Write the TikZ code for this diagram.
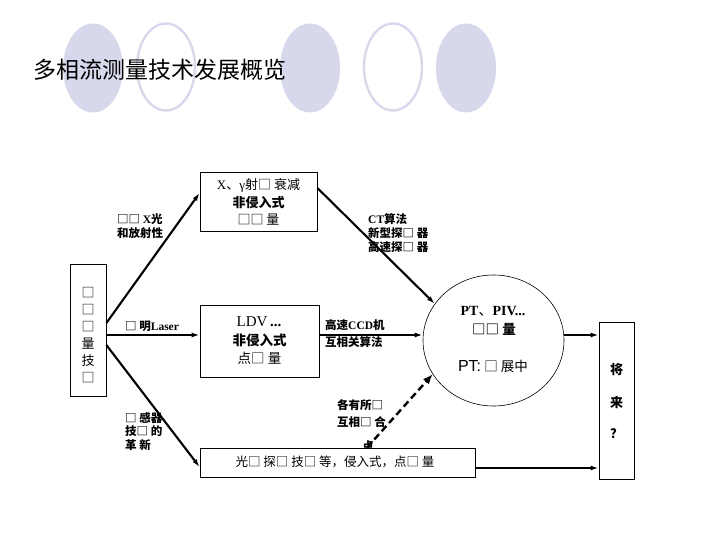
\documentclass[tikz,border=0pt]{standalone}
\usepackage{fontspec}
\setmainfont{Liberation Serif}
\newfontfamily\cj{Noto Sans CJK SC}
\newfontfamily\hv{Liberation Sans}
\usetikzlibrary{arrows.meta,shapes.geometric}
\definecolor{lav}{RGB}{216,216,236}
\tikzset{
  deco/.style={ellipse, minimum width=60bp, minimum height=89bp, inner sep=0},
  decofill/.style={deco, fill=lav},
  decoring/.style={deco, draw=lav, line width=2.4bp, minimum width=58bp, minimum height=87bp},
  box/.style={draw, line width=0.8bp, fill=white, inner sep=0},
  conn/.style={line width=2.1bp, -{Latex[length=8bp,width=5bp]}},
  dconn/.style={line width=2.4bp, dash pattern=on 7bp off 4bp, -{Latex[length=10bp,width=8bp]}},
  lbl/.style={font=\cj\fontsize{11.5bp}{13.8bp}\selectfont\bfseries, align=left, inner sep=0},
  txt/.style={inner sep=0, font=\fontsize{13bp}{15bp}\selectfont},
}
\begin{document}
\begin{tikzpicture}[x=1bp,y=-1bp]
\useasboundingbox (0,0) rectangle (720,540);
% decorative ellipses
\node[decofill] (e1) at (93,68) {};
\node[decoring] (e2) at (166,67) {};
\node[decofill] (e3) at (310,68) {};
\node[decoring] (e4) at (393,67) {};
\node[decofill] (e5) at (466,68) {};
% title
\node[anchor=west, inner sep=0, font=\cj\fontsize{23bp}{25bp}\selectfont] (title) at (33,70) {多相流测量技术发展概览};

% left box
\node[box, minimum width=36bp, minimum height=132bp] (L) at (88,330) {};
\foreach \c/\yy [count=\i] in {□/293,□/310,□/327,量/344,技/361,□/378}
  \node[txt, font=\cj\fontsize{13bp}{15bp}\selectfont] (l\i) at (88,\yy) {\c};

% top box
\node[box, minimum width=117bp, minimum height=59bp] (T) at (258.5,201.5) {};
\node[txt] (t1) at (258.5,185) {X{\cj 、}γ{\cj 射□ 衰减}};
\node[txt, font=\cj\fontsize{13bp}{15bp}\selectfont\bfseries] (t2) at (258.5,202.5) {非侵入式};
\node[txt, font=\cj\fontsize{13bp}{15bp}\selectfont] (t3) at (258.5,220) {□□ 量};

% middle box
\node[box, minimum width=119bp, minimum height=72bp] (M) at (259.5,341) {};
\node[txt, font=\fontsize{15bp}{17bp}\selectfont] (m1) at (259,322) {LDV\,{\bfseries...}};
\node[txt, font=\cj\fontsize{13.5bp}{15bp}\selectfont\bfseries] (m2) at (259.5,340) {非侵入式};
\node[txt, font=\cj\fontsize{13.5bp}{15bp}\selectfont] (m3) at (259.5,358) {点□ 量};

% circle
\node[ellipse, draw, line width=0.6bp, minimum width=141bp, minimum height=131bp, inner sep=0] (C) at (493.5,340.5) {};
\node[txt, font=\fontsize{14bp}{16bp}\selectfont\bfseries] (c1) at (493,311) {PT{\cj\mdseries 、}PIV...};
\node[txt, font=\cj\fontsize{13.5bp}{15bp}\selectfont\bfseries] (c2) at (494,329) {□□ 量};
\node[txt] (c3) at (493,366) {{\hv\fontsize{16bp}{17bp}\selectfont PT:} {\cj\fontsize{13.5bp}{15bp}\selectfont □ 展中}};

% future box
\node[box, minimum width=35bp, minimum height=157bp] (F) at (616.5,400.5) {};
\node[txt, font=\cj\fontsize{13bp}{15bp}\selectfont\bfseries] (f1) at (616.5,370) {将};
\node[txt, font=\cj\fontsize{13bp}{15bp}\selectfont\bfseries] (f2) at (616.5,403) {来};
\node[txt, font=\cj\fontsize{13bp}{15bp}\selectfont\bfseries] (f3) at (616.5,434) {？};

% labels
\node[lbl, anchor=west] (lab1) at (117,226.5) {□□ {\rmfamily X}光\\和放射性};
\node[lbl, anchor=west] (lab2) at (125,326) {□ 明{\rmfamily Laser}};
\node[lbl, anchor=west] (lab3) at (125,431.5) {□ 感器\\技□ 的\\革\ 新};
\node[lbl, anchor=west, font=\cj\fontsize{11.5bp}{14bp}\selectfont\bfseries] (lab4) at (368,233) {{\rmfamily CT}算法\\新型探□ 器\\高速探□ 器};
\node[lbl, anchor=west, font=\cj\fontsize{11.5bp}{16.5bp}\selectfont\bfseries] (lab5) at (325,333.5) {高速{\rmfamily CCD}机\\互相关算法};
\node[lbl, anchor=west, font=\cj\fontsize{11.5bp}{16.5bp}\selectfont\bfseries] (lab6) at (337,413.5) {各有所□\\互相□ 合};
\node[lbl] (lab7) at (368,446) {点};

% bottom box (drawn over the clipped label)
\node[box, minimum width=275bp, minimum height=29bp] (B) at (337.5,462.5) {};
\node[txt, font=\cj\fontsize{12.5bp}{15bp}\selectfont] (b1) at (335,462) {光□ 探□ 技□ 等，侵入式，点□ 量};

% connectors
\draw[conn] (L.east |- 0,323) -- (T.west |- 0,193);
\draw[conn] (L.east |- 0,335) -- (M.west |- 0,335);
\draw[conn] (L.east |- 0,345) -- (B.west |- 0,467);
\draw[conn] (T.east |- 0,188) -- (C.148.5);
\draw[conn] (M.east |- 0,335) -- (C.west |- 0,335);
\draw[dconn] (B.north -| 367,0) -- (C.209.5);
\draw[conn] (C.east |- 0,335) -- (F.west |- 0,335);
\draw[conn] (B.east |- 0,468) -- (F.west |- 0,468);
\end{tikzpicture}
\end{document}
